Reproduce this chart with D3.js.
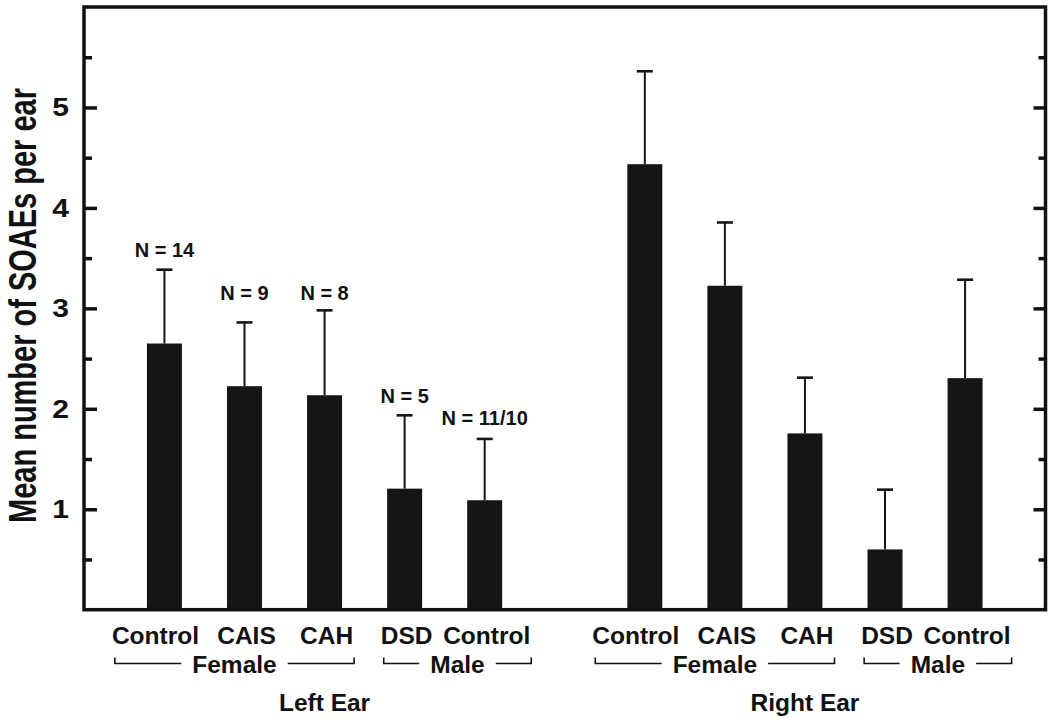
<!DOCTYPE html>
<html>
<head>
<meta charset="utf-8">
<script src="https://cdn.jsdelivr.net/npm/d3@7"></script>
<style>
  html, body { margin: 0; padding: 0; background: #fff; }
  svg { display: block; }
  text { font-family: "Liberation Sans", Arial, Helvetica, sans-serif; font-weight: bold; fill: #111; }
</style>
</head>
<body>
<svg id="chart" width="1050" height="723"></svg>
<script>
// ---- data ----
const ears = ["Left Ear", "Right Ear"];
const categories = ["Control", "CAIS", "CAH", "DSD", "Control"];
const sexGroups = [{ name: "Female", from: 0, to: 2 }, { name: "Male", from: 3, to: 4 }];
const leftMeans = [2.65, 2.225, 2.135, 1.205, 1.09];
const leftErrTop = [3.385, 2.86, 2.98, 1.935, 1.70];
const rightMeans = [4.435, 3.225, 1.755, 0.60, 2.305];
const rightErrTop = [5.36, 3.855, 2.31, 1.195, 3.285];
const nLabels = ["N = 14", "N = 9", "N = 8", "N = 5", "N = 11/10"];
const nLabelValue = [3.507, 3.08, 3.08, 2.057, 1.838];
const yTicks = [1, 2, 3, 4, 5];
const yMinorTicks = [0.5, 1.5, 2.5, 3.5, 4.5, 5.5];
const yLabel = "Mean number of SOAEs per ear";

// ---- layout ----
const svg = d3.select("#chart");
const frame = { left: 84, right: 1045.5, top: 7, bottom: 609.7 };

const keys = [];
categories.forEach((c, i) => keys.push("L" + i));
keys.push("gap");
categories.forEach((c, i) => keys.push("R" + i));

const x = d3.scaleBand().domain(keys)
  .range([frame.left, frame.right])
  .paddingInner(0.563).paddingOuter(0.786);
const y = d3.scaleLinear().domain([0, 6]).range([frame.bottom, frame.top]);

const bars = [];
categories.forEach((c, i) => bars.push({ key: "L" + i, mean: leftMeans[i], err: leftErrTop[i], ear: 0, idx: i }));
categories.forEach((c, i) => bars.push({ key: "R" + i, mean: rightMeans[i], err: rightErrTop[i], ear: 1, idx: i }));

// ---- bars ----
svg.append("g").selectAll("rect").data(bars).join("rect")
  .attr("x", d => x(d.key))
  .attr("width", x.bandwidth())
  .attr("y", d => y(d.mean))
  .attr("height", d => y(0) - y(d.mean))
  .attr("fill", "#151515");

// ---- error bars (upper only) ----
const eb = svg.append("g").attr("stroke", "#151515");
eb.selectAll("line.stem").data(bars).join("line").attr("class", "stem")
  .attr("x1", d => x(d.key) + x.bandwidth() / 2)
  .attr("x2", d => x(d.key) + x.bandwidth() / 2)
  .attr("y1", d => y(d.mean))
  .attr("y2", d => y(d.err))
  .attr("stroke-width", 2);
eb.selectAll("line.cap").data(bars).join("line").attr("class", "cap")
  .attr("x1", d => x(d.key) + x.bandwidth() / 2 - 8)
  .attr("x2", d => x(d.key) + x.bandwidth() / 2 + 8)
  .attr("y1", d => y(d.err))
  .attr("y2", d => y(d.err))
  .attr("stroke-width", 2.6);

// ---- N labels (left ear) ----
svg.append("g").selectAll("text").data(nLabels).join("text")
  .attr("x", (d, i) => x("L" + i) + x.bandwidth() / 2)
  .attr("y", (d, i) => y(nLabelValue[i]))
  .attr("text-anchor", "middle")
  .attr("font-size", 20)
  .text(d => d);

// ---- frame & ticks ----
const fg = svg.append("g");
fg.append("rect")
  .attr("x", frame.left).attr("y", frame.top)
  .attr("width", frame.right - frame.left)
  .attr("height", frame.bottom - frame.top)
  .attr("fill", "none").attr("stroke", "#111").attr("stroke-width", 3.5);

const leftAxis = d3.axisRight(y).tickValues(yTicks).tickSize(13).tickFormat("");
const leftMinor = d3.axisRight(y).tickValues(yMinorTicks).tickSize(8).tickFormat("");
const rightAxis = d3.axisLeft(y).tickValues(yTicks).tickSize(12).tickFormat("");
const rightMinor = d3.axisLeft(y).tickValues(yMinorTicks).tickSize(7).tickFormat("");
[[leftAxis, frame.left], [leftMinor, frame.left], [rightAxis, frame.right], [rightMinor, frame.right]].forEach(([ax, px]) => {
  const g = fg.append("g").attr("transform", `translate(${px},0)`).call(ax);
  g.select(".domain").remove();
  g.selectAll("line").attr("stroke", "#111").attr("stroke-width", 3.5);
});

// y tick labels (slightly wide glyphs as in original)
svg.append("g").selectAll("text").data(yTicks).join("text")
  .attr("transform", d => `translate(69,${y(d)}) scale(1.2,1)`)
  .attr("text-anchor", "end")
  .attr("dy", "0.36em")
  .attr("font-size", 25)
  .text(d => d);

// y axis title
svg.append("text")
  .attr("transform", `translate(36,${(88 + 523) / 2}) rotate(-90) scale(1,1.33)`)
  .attr("text-anchor", "middle")
  .attr("font-size", 29)
  .text(yLabel);

// ---- category labels, brackets, ear labels ----
const catY = 644, sexY = 673, bracketY = 663.5, earY = 711;
ears.forEach((ear, e) => {
  const prefix = e === 0 ? "L" : "R";
  const g = svg.append("g");
  const labels = g.selectAll("text.cat").data(categories).join("text").attr("class", "cat")
    .attr("x", (d, i) => x(prefix + i) + x.bandwidth() / 2 + (i === 0 ? -9 : 2))
    .attr("y", catY)
    .attr("text-anchor", "middle")
    .attr("font-size", 24.5)
    .text(d => d);
  const boxes = labels.nodes().map(n => n.getBBox());

  sexGroups.forEach(sg => {
    const x0 = boxes[sg.from].x + 3;
    const x1 = boxes[sg.to].x + boxes[sg.to].width + 1;
    const cx = (x0 + x1) / 2;
    const t = g.append("text")
      .attr("x", cx).attr("y", sexY)
      .attr("text-anchor", "middle")
      .attr("font-size", 24.5)
      .text(sg.name);
    const tb = t.node().getBBox();
    const gapPad = 11;
    const path = d3.path();
    path.moveTo(x0, bracketY - 6); path.lineTo(x0, bracketY); path.lineTo(tb.x - gapPad, bracketY);
    path.moveTo(tb.x + tb.width + gapPad, bracketY); path.lineTo(x1, bracketY); path.lineTo(x1, bracketY - 6);
    g.append("path").attr("d", path.toString())
      .attr("fill", "none").attr("stroke", "#111").attr("stroke-width", 1.6);
  });

  g.append("text")
    .attr("x", x(prefix + 2) + x.bandwidth() / 2)
    .attr("y", earY)
    .attr("text-anchor", "middle")
    .attr("font-size", 24.5)
    .text(ear);
});
</script>
</body>
</html>
